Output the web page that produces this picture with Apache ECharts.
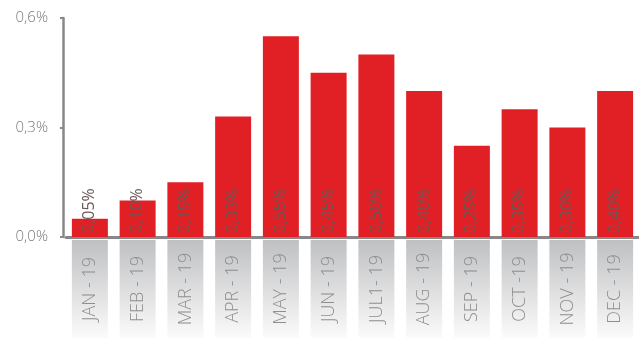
<!DOCTYPE html>
<html><head><meta charset="utf-8">
<script src="https://cdn.jsdelivr.net/npm/echarts@6/dist/echarts.min.js"></script>
<style>html,body{margin:0;padding:0;background:#fff}#c{width:639px;height:341px}</style>
</head><body><div id="c"></div>
<script>
var categories = ['JAN - 19','FEB - 19','MAR - 19','APR - 19','MAY - 19','JUN - 19','JUL1- 19','AUG - 19','SEP - 19','OCT -19','NOV - 19','DEC - 19'];
var values = [0.05,0.10,0.15,0.33,0.55,0.45,0.50,0.40,0.25,0.35,0.30,0.40];
var valueLabels = ['0,05%','0,10%','0,15%','0,33%','0,55%','0,45%','0,50%','0,40%','0,25%','0,35%','0,30%','0,40%'];
var yTicks = [0, 0.3, 0.6];

var FONT = '"Open Sans", "Noto Sans", sans-serif';
var chart = echarts.init(document.getElementById('c'), null, {renderer:'canvas'});
chart.setOption({
  animation:false,
  grid:{left:66,right:-3,top:18,bottom:101,containLabel:false},
  xAxis:{
    type:'category', data:categories,
    axisLine:{show:true,lineStyle:{color:'#888',width:3}},
    axisTick:{show:false},
    axisLabel:{
      interval:0, rotate:90, margin:3,
      formatter:function(v){return '{a|'+v+'}';},
      rich:{a:{
        width:98,height:36,align:'center',verticalAlign:'middle',
        color:'#8e8e8e',fontFamily:FONT,fontSize:18,fontWeight:300,
        backgroundColor:new echarts.graphic.LinearGradient(0,0,1,0,[{offset:0,color:'#fbfbfb'},{offset:1,color:'#bfc0c2'}])
      }}
    }
  },
  yAxis:{
    type:'value', min:yTicks[0], max:yTicks[2], interval:yTicks[1]-yTicks[0], offset:3,
    axisLine:{show:true,lineStyle:{color:'#888',width:2.5}},
    axisTick:{show:true,length:3,lineStyle:{color:'#888',width:2}},
    splitLine:{show:false},
    axisLabel:{margin:15,color:'#7a7a7a',fontFamily:FONT,fontSize:15,fontWeight:300,
      formatter:function(v){return v.toFixed(1).replace('.',',')+'%';}}
  },
  series:[{
    type:'bar', data:values, barWidth:36,
    itemStyle:{color:'#e12026'},
    label:{show:true,position:'insideBottom',rotate:90,align:'left',verticalAlign:'middle',distance:4,
      color:'#6a5858',textBorderWidth:0,textBorderColor:'#e12026',textShadowBlur:0,fontFamily:FONT,fontSize:16,fontWeight:'normal',
      formatter:function(p){return valueLabels[p.dataIndex];}}
  }]
});
</script></body></html>
